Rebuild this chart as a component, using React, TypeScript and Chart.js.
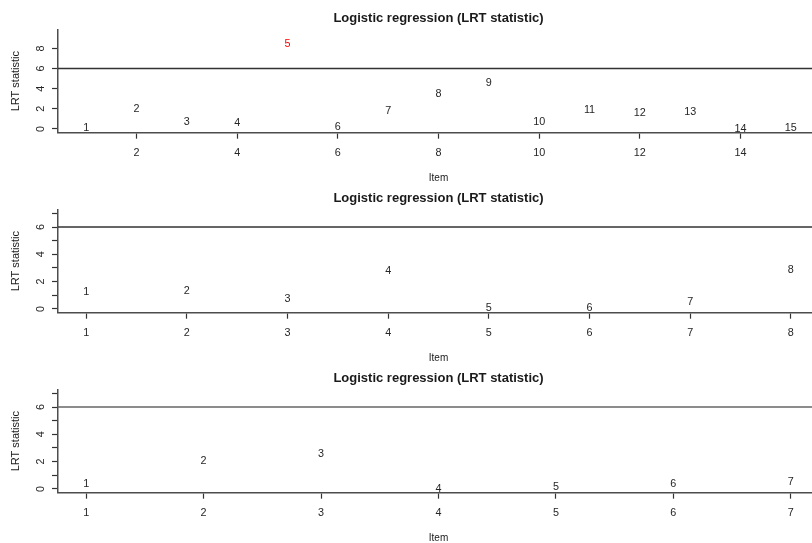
import React, { useEffect, useRef } from 'react';
import { Chart, registerables } from 'chart.js';

Chart.register(...registerables);

const FONT = '"Liberation Sans", Arial, Helvetica, sans-serif';

const titleText = 'Logistic regression (LRT statistic)';
const xAxisTitle = 'Item';
const yAxisTitle = 'LRT statistic';
const threshold = 6;

// Panel 1
const items1 = [1, 2, 3, 4, 5, 6, 7, 8, 9, 10, 11, 12, 13, 14, 15];
const lrt1 = [0.05, 2.02, 0.73, 0.63, 8.45, 0.2, 1.76, 3.51, 4.55, 0.73, 1.86, 1.56, 1.72, 0.0, 0.13];
const flagged1 = [5];
const xTicks1 = [2, 4, 6, 8, 10, 12, 14];
const yTicks1 = [0, 2, 4, 6, 8];
const yTickLabels1 = ['0', '2', '4', '6', '8'];
const xRange1 = [0.44, 15.56];
const yRange1 = [-0.38, 9.88];

// Panel 2
const items2 = [1, 2, 3, 4, 5, 6, 7, 8];
const lrt2 = [1.24, 1.29, 0.73, 2.8, 0.07, 0.07, 0.51, 2.85];
const flagged2: number[] = [];
const xTicks2 = [1, 2, 3, 4, 5, 6, 7, 8];
const yTicks2 = [0, 1, 2, 3, 4, 5, 6, 7];
const yTickLabels2 = ['0', '', '2', '', '4', '', '6', ''];
const xRange2 = [0.72, 8.28];
const yRange2 = [-0.28, 7.28];

// Panel 3
const items3 = [1, 2, 3, 4, 5, 6, 7];
const lrt3 = [0.38, 2.05, 2.56, 0.0, 0.17, 0.38, 0.53];
const flagged3: number[] = [];
const xTicks3 = [1, 2, 3, 4, 5, 6, 7];
const yTicks3 = [0, 1, 2, 3, 4, 5, 6, 7];
const yTickLabels3 = ['0', '', '2', '', '4', '', '6', ''];
const xRange3 = [0.76, 7.24];
const yRange3 = [-0.28, 7.28];

const TEXT = '#262626';
const LINE = '#4d4d4d';

interface PanelProps {
  items: number[];
  values: number[];
  flagged: number[];
  xTicks: number[];
  yTicks: number[];
  yTickLabels: string[];
  xRange: number[];
  yRange: number[];
  lineColor: string;
}

function Panel(props: PanelProps) {
  const ref = useRef<HTMLCanvasElement | null>(null);
  useEffect(() => {
    const canvas = ref.current;
    if (!canvas) return;
    const { items, values, flagged, xTicks, yTicks, yTickLabels, xRange, yRange, lineColor } = props;
    const labels = items.map((i) => String(i));
    const colors = items.map((i) => (flagged.includes(i) ? '#ff0000' : TEXT));

    const labelPlugin = {
      id: 'pointLabels',
      afterDatasetsDraw(chart: any) {
        const meta = chart.getDatasetMeta(1);
        const ctx = chart.ctx;
        ctx.save();
        ctx.font = `10.8px ${FONT}`;
        ctx.textAlign = 'center';
        ctx.textBaseline = 'middle';
        meta.data.forEach((el: any, i: number) => {
          ctx.fillStyle = colors[i];
          ctx.fillText(labels[i], el.x, el.y);
        });
        ctx.restore();
      },
    };

    const chart = new Chart(canvas, {
      type: 'scatter',
      data: {
        datasets: [
          {
            data: [
              { x: xRange[0], y: threshold },
              { x: xRange[1], y: threshold },
            ],
            showLine: true,
            borderColor: lineColor,
            borderWidth: 1.5,
            pointRadius: 0,
            pointHoverRadius: 0,
          },
          {
            data: items.map((it, i) => ({ x: it, y: values[i] })),
            pointRadius: 0,
            pointHoverRadius: 0,
            showLine: false,
          },
        ],
      },
      options: {
        animation: false,
        responsive: false,
        devicePixelRatio: 1,
        events: [],
        layout: { padding: { left: 0, right: 3, top: 0, bottom: 0 } },
        plugins: {
          legend: { display: false },
          tooltip: { enabled: false },
          title: {
            display: true,
            text: titleText,
            fullSize: false,
            color: '#1a1a1a',
            font: { family: FONT, size: 13, weight: 'bold', lineHeight: 1.2 },
            padding: { top: 10.5, bottom: 3.5 },
          },
        },
        scales: {
          x: {
            type: 'linear',
            min: xRange[0],
            max: xRange[1],
            afterBuildTicks: (s: any) => {
              s.ticks = xTicks.map((v) => ({ value: v }));
            },
            afterFit: (s: any) => {
              s.height = 50.3;
            },
            ticks: {
              autoSkip: false,
              maxRotation: 0,
              minRotation: 0,
              padding: 7.7,
              color: TEXT,
              font: { family: FONT, size: 10.8, lineHeight: 1.2 },
              callback: (v: any) => String(v),
            },
            grid: {
              display: true,
              drawOnChartArea: false,
              drawTicks: true,
              tickLength: 6,
              tickColor: '#333333',
              tickWidth: 1.2,
            },
            border: { display: true, color: LINE, width: 1.5 },
            title: {
              display: true,
              text: xAxisTitle,
              color: '#1a1a1a',
              font: { family: FONT, size: 10, lineHeight: 1 },
              padding: { top: 0, bottom: 0 },
            },
          },
          y: {
            type: 'linear',
            min: yRange[0],
            max: yRange[1],
            afterBuildTicks: (s: any) => {
              s.ticks = yTicks.map((v) => ({ value: v }));
            },
            afterFit: (s: any) => {
              s.width = 58;
            },
            ticks: {
              autoSkip: false,
              minRotation: 90,
              maxRotation: 90,
              crossAlign: 'center',
              padding: 8,
              color: TEXT,
              font: { family: FONT, size: 10.8, lineHeight: 1.2 },
              callback: (_v: any, idx: number) => yTickLabels[idx],
            },
            grid: {
              display: true,
              drawOnChartArea: false,
              drawTicks: true,
              tickLength: 6,
              tickColor: '#333333',
              tickWidth: 1.2,
            },
            border: { display: true, color: LINE, width: 1.5 },
            title: {
              display: true,
              text: yAxisTitle,
              color: '#1a1a1a',
              font: { family: FONT, size: 11, lineHeight: 1.2 },
              padding: { top: 9.2, bottom: 0 },
            },
          },
        },
      } as any,
      plugins: [labelPlugin],
    });
    return () => chart.destroy();
  }, []);
  return <canvas ref={ref} width={822} height={183} style={{ display: 'block', width: 822, height: 183 }} />;
}

export default function App() {
  return (
    <div
      style={{
        position: 'absolute',
        left: 0,
        top: 0,
        width: 812,
        height: 543,
        overflow: 'hidden',
        background: '#ffffff',
      }}
    >
      <div style={{ position: 'absolute', left: 0, top: 0 }}>
        <Panel items={items1} values={lrt1} flagged={flagged1} xTicks={xTicks1} yTicks={yTicks1}
          yTickLabels={yTickLabels1} xRange={xRange1} yRange={yRange1} lineColor="#333333" />
      </div>
      <div style={{ position: 'absolute', left: 0, top: 180 }}>
        <Panel items={items2} values={lrt2} flagged={flagged2} xTicks={xTicks2} yTicks={yTicks2}
          yTickLabels={yTickLabels2} xRange={xRange2} yRange={yRange2} lineColor="#333333" />
      </div>
      <div style={{ position: 'absolute', left: 0, top: 360 }}>
        <Panel items={items3} values={lrt3} flagged={flagged3} xTicks={xTicks3} yTicks={yTicks3}
          yTickLabels={yTickLabels3} xRange={xRange3} yRange={yRange3} lineColor="#666666" />
      </div>
    </div>
  );
}
